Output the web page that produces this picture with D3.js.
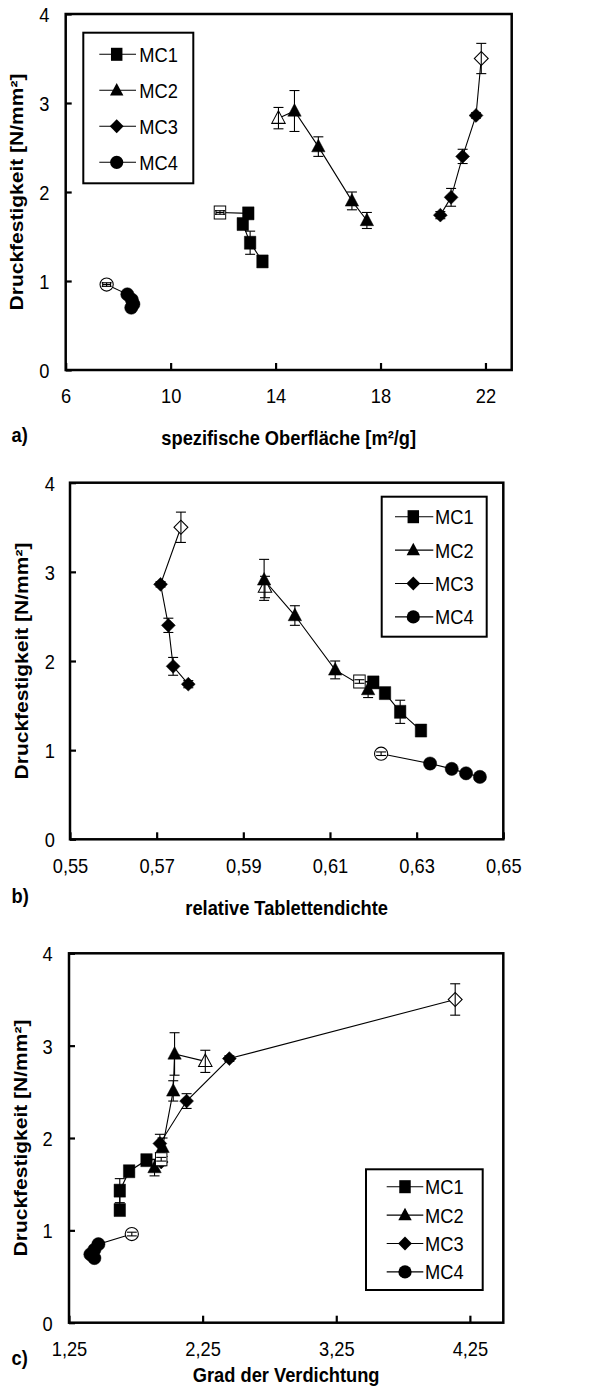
<!DOCTYPE html>
<html>
<head>
<meta charset="utf-8">
<script src="https://cdn.jsdelivr.net/npm/d3@7"></script>
<style>
  html, body { margin: 0; padding: 0; background: #fff; }
  svg { display: block; }
  text { font-family: "Liberation Sans", Arial, Helvetica, sans-serif; fill: #000; }
</style>
</head>
<body>
<svg id="chart" width="598" height="1395"></svg>
<script>
// ---- data -------------------------------------------------------------
const seriesNames = ["MC1", "MC2", "MC3", "MC4"];

// compressive strength [N/mm²]; the first entry of each series is the open marker
const strengthMC1 = [1.77, 1.76, 1.64, 1.43, 1.22];
const strengthMC2 = [2.83, 2.91, 2.51, 1.90, 1.68];
const strengthMC3 = [3.50, 2.86, 2.40, 1.94, 1.74];
const strengthMC4 = [0.96, 0.85, 0.79, 0.74, 0.70];

// standard deviation of the strength
const errMC1 = [0.02, 0.02, 0.02, 0.13, 0.03];
const errMC2 = [0.12, 0.23, 0.11, 0.10, 0.09];
const errMC3 = [0.17, 0.03, 0.08, 0.10, 0.04];
const errMC4 = [0.02, 0.02, 0.02, 0.02, 0.02];

// specific surface [m²/g]
const surfaceMC1 = [11.88, 12.96, 12.75, 13.03, 13.50];
const surfaceMC2 = [14.11, 14.72, 15.63, 16.91, 17.48];
const surfaceMC3 = [21.84, 21.64, 21.13, 20.69, 20.28];
const surfaceMC4 = [7.56, 8.35, 8.52, 8.58, 8.50];
// deviation of the specific surface (open markers)
const surfaceErrMC1 = [0.15, 0, 0, 0, 0];
const surfaceErrMC2 = [0, 0, 0, 0, 0];
const surfaceErrMC3 = [0, 0, 0, 0, 0];
const surfaceErrMC4 = [0.15, 0, 0, 0, 0];

// relative tablet density
const densityMC1 = [0.6168, 0.6200, 0.6227, 0.6262, 0.6310];
const densityMC2 = [0.5950, 0.5948, 0.6019, 0.6112, 0.6188];
const densityMC3 = [0.5756, 0.5709, 0.5727, 0.5738, 0.5773];
const densityMC4 = [0.6218, 0.6331, 0.6381, 0.6414, 0.6446];

// degree of compaction
const compactionMC1 = [1.94, 1.83, 1.70, 1.63, 1.63];
const compactionMC2 = [2.27, 2.04, 2.03, 1.95, 1.89];
const compactionMC3 = [4.14, 2.45, 2.13, 1.93, 1.94];
const compactionMC4 = [1.72, 1.47, 1.44, 1.41, 1.44];

// axis ticks
const strengthTicks = [0, 1, 2, 3, 4];
const surfaceTicks = [6, 10, 14, 18, 22];
const densityTicks = [0.55, 0.57, 0.59, 0.61, 0.63, 0.65];
const compactionTicks = [1.25, 2.25, 3.25, 4.25];

// ---- drawing ----------------------------------------------------------
const SQ = 0.87;          // horizontal condensing of all lettering
const FS = 21;            // font size

const svg = d3.select("#chart");

const strength = [strengthMC1, strengthMC2, strengthMC3, strengthMC4];
const errs = [errMC1, errMC2, errMC3, errMC4];
const drawOrder = [2, 1, 3, 0];   // MC1 painted last so its markers stay on top

const commaFmt = v => d3.format(".2f")(v).replace(".", ",");

const panels = [
  {
    tag: "a)", title: "spezifische Oberfläche [m²/g]",
    xs: [surfaceMC1, surfaceMC2, surfaceMC3, surfaceMC4],
    xErr: [surfaceErrMC1, surfaceErrMC2, surfaceErrMC3, surfaceErrMC4],
    domain: [6, 23], ticks: surfaceTicks, fmt: d3.format("d"),
    l: 65.7, r: 511.7, t: 14, b: 370,
    yTitleX: 23, tagY: 442, titleY: 445, yPad: 16.4,
    legend: { x: 83.3, y: 32.7, w: 110, h: 150.6, first: 21.6, step: 36, l0: 16, l1: 52.7, m: 33.4, tx: 56 }
  },
  {
    tag: "b)", title: "relative Tablettendichte",
    xs: [densityMC1, densityMC2, densityMC3, densityMC4],
    xErr: null,
    domain: [0.55, 0.65], ticks: densityTicks, fmt: commaFmt,
    l: 70, r: 503.3, t: 482.7, b: 839.3,
    yTitleX: 28, tagY: 903, titleY: 915, yPad: 15,
    legend: { x: 381.7, y: 496.7, w: 105, h: 140, first: 20, step: 33.4, l0: 13.3, l1: 51.6, m: 31.6, tx: 53.3 }
  },
  {
    tag: "c)", title: "Grad der Verdichtung",
    xs: [compactionMC1, compactionMC2, compactionMC3, compactionMC4],
    xErr: null,
    domain: [1.25, 4.5], ticks: compactionTicks, fmt: commaFmt,
    l: 69, r: 503.3, t: 953.3, b: 1322.7,
    yTitleX: 26.5, tagY: 1365, titleY: 1381.7, yPad: 16.3,
    legend: { x: 366, y: 1169.3, w: 116.7, h: 120.7, first: 17.4, step: 28.4, l0: 20.7, l1: 57.3, m: 39, tx: 59 }
  }
];

// marker shapes per series
function markerPath(i) {
  const types = [d3.symbolSquare, d3.symbolTriangle, d3.symbolSquare, d3.symbolCircle];
  const sizes = [170, 92, 96, 137];
  return d3.symbol().type(types[i]).size(sizes[i])();
}
function markerTransform(i, x, y) {
  if (i === 2) return `translate(${x},${y}) rotate(45)`;
  if (i === 0) return `translate(${x},${y}) scale(0.88,1)`;
  if (i === 1) return `translate(${x},${y + 1}) scale(0.92,1)`;
  return `translate(${x},${y})`;
}

function squishText(sel, x, y, extra) {
  return sel.attr("transform", `translate(${x},${y}) scale(${SQ},1)` + (extra || ""));
}

panels.forEach(p => {
  const g = svg.append("g");
  const x = d3.scaleLinear().domain(p.domain).range([p.l, p.r]);
  const y = d3.scaleLinear().domain([0, 4]).range([p.b, p.t]);

  // x axis with inward ticks
  const xAxis = g.append("g")
    .attr("transform", `translate(0,${p.b})`)
    .call(d3.axisBottom(x).tickValues(p.ticks).tickFormat(p.fmt).tickSize(-7).tickPadding(0));
  xAxis.select(".domain").remove();
  xAxis.selectAll(".tick line").attr("stroke", "#000").attr("stroke-width", 2.2);
  xAxis.selectAll(".tick text")
    .attr("y", null).attr("dy", null)
    .attr("font-size", FS)
    .attr("text-anchor", "middle")
    .attr("transform", `translate(0,33.3) scale(${SQ},1)`);

  // y axis with inward ticks
  const yAxis = g.append("g")
    .attr("transform", `translate(${p.l},0)`)
    .call(d3.axisLeft(y).tickValues(strengthTicks).tickFormat(d3.format("d")).tickSize(-6).tickPadding(0));
  yAxis.select(".domain").remove();
  yAxis.selectAll(".tick line").attr("stroke", "#000").attr("stroke-width", 2.2);
  yAxis.selectAll(".tick text")
    .attr("x", null).attr("dy", "0.36em")
    .attr("font-size", FS)
    .attr("text-anchor", "end")
    .attr("transform", `translate(${-p.yPad},0) scale(${SQ},1)`);

  // plot frame
  g.append("rect")
    .attr("x", p.l).attr("y", p.t)
    .attr("width", p.r - p.l).attr("height", p.b - p.t)
    .attr("fill", "none").attr("stroke", "#000").attr("stroke-width", 2.5);

  // series
  drawOrder.forEach(si => {
    const name = seriesNames[si];
    const pts = p.xs[si].map((xv, k) => ({
      x: xv, y: strength[si][k], e: errs[si][k],
      ex: p.xErr ? p.xErr[si][k] : 0, open: k === 0
    }));
    const sg = g.append("g").attr("class", "series-" + name);

    sg.append("path")
      .datum(pts)
      .attr("fill", "none").attr("stroke", "#000").attr("stroke-width", 1.1)
      .attr("d", d3.line().x(d => x(d.x)).y(d => y(d.y)));

    sg.selectAll("path.mk").data(pts).join("path")
      .attr("class", "mk")
      .attr("d", markerPath(si))
      .attr("transform", d => markerTransform(si, x(d.x), y(d.y)))
      .attr("fill", d => d.open ? "#fff" : "#000")
      .attr("stroke", "#000").attr("stroke-width", d => d.open ? 1.1 : 0.5);

    // vertical error bars
    const eb = sg.selectAll("g.eb").data(pts.filter(d => d.e > 0)).join("g").attr("class", "eb")
      .attr("stroke", "#000").attr("stroke-width", 1.1);
    eb.append("line")
      .attr("x1", d => x(d.x)).attr("x2", d => x(d.x))
      .attr("y1", d => y(d.y - d.e)).attr("y2", d => y(d.y + d.e));
    eb.append("line")
      .attr("x1", d => x(d.x) - 5).attr("x2", d => x(d.x) + 5)
      .attr("y1", d => y(d.y + d.e)).attr("y2", d => y(d.y + d.e));
    eb.append("line")
      .attr("x1", d => x(d.x) - 5).attr("x2", d => x(d.x) + 5)
      .attr("y1", d => y(d.y - d.e)).attr("y2", d => y(d.y - d.e));

    // horizontal error bars
    const hb = sg.selectAll("g.hb").data(pts.filter(d => d.ex > 0)).join("g").attr("class", "hb")
      .attr("stroke", "#000").attr("stroke-width", 1.1);
    hb.append("line")
      .attr("x1", d => x(d.x - d.ex)).attr("x2", d => x(d.x + d.ex))
      .attr("y1", d => y(d.y)).attr("y2", d => y(d.y));
    hb.append("line")
      .attr("x1", d => x(d.x - d.ex)).attr("x2", d => x(d.x - d.ex))
      .attr("y1", d => y(d.y) - 2.5).attr("y2", d => y(d.y) + 2.5);
    hb.append("line")
      .attr("x1", d => x(d.x + d.ex)).attr("x2", d => x(d.x + d.ex))
      .attr("y1", d => y(d.y) - 2.5).attr("y2", d => y(d.y) + 2.5);
  });

  // legend
  const L = p.legend;
  const lg = g.append("g");
  lg.append("rect")
    .attr("x", L.x).attr("y", L.y).attr("width", L.w).attr("height", L.h)
    .attr("fill", "#fff").attr("stroke", "#000").attr("stroke-width", 2);
  seriesNames.forEach((name, si) => {
    const cy = L.y + L.first + si * L.step;
    lg.append("line")
      .attr("x1", L.x + L.l0).attr("x2", L.x + L.l1)
      .attr("y1", cy).attr("y2", cy)
      .attr("stroke", "#000").attr("stroke-width", 1.1);
    lg.append("path")
      .attr("d", markerPath(si))
      .attr("transform", markerTransform(si, L.x + L.m, cy))
      .attr("fill", "#000");
    squishText(lg.append("text"), L.x + L.tx, cy)
      .attr("dy", "0.36em").attr("font-size", FS)
      .text(name);
  });

  // axis titles and panel tag
  squishText(g.append("text"), (p.l + p.r) / 2, p.titleY)
    .attr("text-anchor", "middle").attr("font-size", FS).attr("font-weight", "bold")
    .text(p.title);

  g.append("text")
    .attr("transform", `translate(${p.yTitleX},${(p.t + p.b) / 2}) scale(${SQ},1) rotate(-90)`)
    .attr("text-anchor", "middle").attr("font-size", FS).attr("font-weight", "bold")
    .text("Druckfestigkeit [N/mm²]");

  squishText(g.append("text"), 11.5, p.tagY)
    .attr("font-size", FS).attr("font-weight", "bold")
    .text(p.tag);
});
</script>
</body>
</html>
